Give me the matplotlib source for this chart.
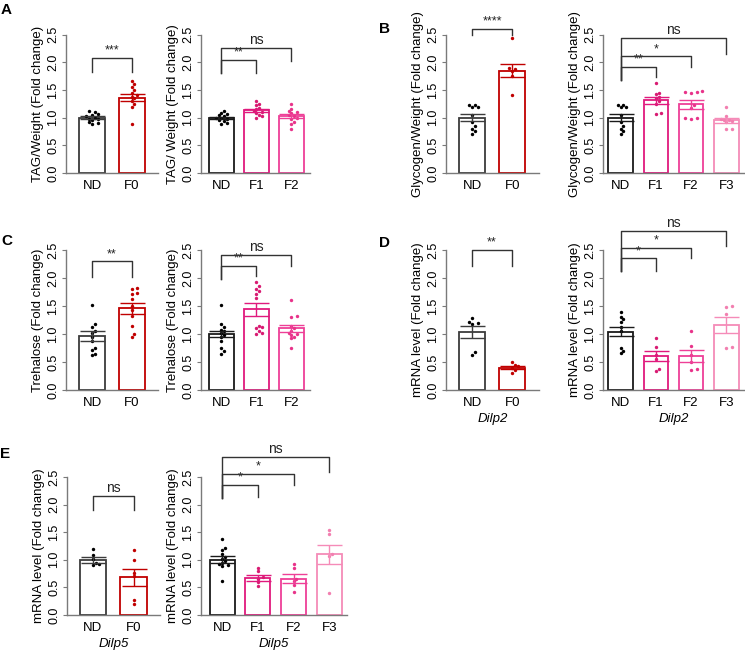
import matplotlib
matplotlib.use("Agg")
import matplotlib.pyplot as plt

plt.rcParams["font.family"] = ["Liberation Sans", "DejaVu Sans"]

W, H = 745, 654

# ---- data ------------------------------------------------------------------
groups_2 = ["ND", "F0"]
groups_3 = ["ND", "F1", "F2"]
groups_4 = ["ND", "F1", "F2", "F3"]

# A: TAG / weight
a_left_dots = [
    [1.12, 1.10, 1.07, 1.05, 1.02, 1.00, 0.98, 0.97, 0.95, 0.92, 0.90, 0.88],
    [1.66, 1.60, 1.55, 1.50, 1.45, 1.40, 1.38, 1.35, 1.30, 1.25, 1.20, 0.89],
]
a_left_mean = [1.00, 1.36]
a_left_sem = [0.02, 0.06]

a_right_dots = [
    [1.12, 1.09, 1.06, 1.04, 1.02, 1.00, 0.99, 0.97, 0.95, 0.93, 0.90, 0.88],
    [1.30, 1.25, 1.22, 1.18, 1.15, 1.12, 1.10, 1.08, 1.05, 1.02, 1.00],
    [1.24, 1.15, 1.12, 1.10, 1.08, 1.05, 1.03, 1.00, 0.98, 0.92, 0.88, 0.80],
]
a_right_mean = [0.99, 1.13, 1.03]
a_right_sem = [0.02, 0.03, 0.03]

# B: glycogen / weight
b_left_dots = [
    [1.23, 1.22, 1.20, 1.19, 1.05, 0.92, 0.85, 0.80, 0.75, 0.70],
    [2.44, 1.90, 1.88, 1.85, 1.75, 1.40],
]
b_left_mean = [1.00, 1.85]
b_left_sem = [0.06, 0.12]

b_right_dots = [
    [1.23, 1.22, 1.20, 1.19, 1.05, 0.92, 0.85, 0.80, 0.75, 0.70],
    [1.62, 1.45, 1.42, 1.38, 1.35, 1.30, 1.25, 1.08, 1.07],
    [1.48, 1.47, 1.46, 1.45, 1.22, 1.18, 1.00, 0.99, 0.98],
    [1.20, 1.02, 0.98, 0.96, 0.95, 0.93, 0.92, 0.80, 0.80],
]
b_right_mean = [1.00, 1.31, 1.24, 0.95]
b_right_sem = [0.06, 0.07, 0.08, 0.04]

# C: trehalose
c_left_dots = [
    [1.52, 1.17, 1.12, 1.05, 1.02, 0.95, 0.88, 0.75, 0.72, 0.65, 0.62],
    [1.82, 1.80, 1.73, 1.72, 1.62, 1.50, 1.42, 1.32, 1.14, 1.00, 0.95],
]
c_left_mean = [0.97, 1.46]
c_left_sem = [0.09, 0.10]

c_right_dots = [
    [1.52, 1.18, 1.12, 1.08, 1.05, 1.02, 0.98, 0.95, 0.88, 0.75, 0.70, 0.65],
    [1.92, 1.85, 1.80, 1.76, 1.72, 1.65, 1.15, 1.12, 1.10, 1.05, 1.02, 1.00],
    [1.60, 1.32, 1.30, 1.15, 1.10, 1.05, 1.02, 1.00, 0.98, 0.95, 0.92, 0.75],
]
c_right_mean = [1.00, 1.44, 1.10]
c_right_sem = [0.06, 0.12, 0.06]

# D: Dilp2 mRNA
d_left_dots = [
    [1.28, 1.22, 1.20, 1.18, 0.68, 0.63],
    [0.50, 0.45, 0.42, 0.40, 0.35, 0.30],
]
d_left_mean = [1.03, 0.40]
d_left_sem = [0.11, 0.03]

d_right_dots = [
    [1.40, 1.30, 1.26, 1.22, 1.12, 1.05, 0.75, 0.70, 0.66],
    [0.93, 0.77, 0.63, 0.55, 0.38, 0.34],
    [1.05, 0.79, 0.63, 0.50, 0.38, 0.36],
    [1.50, 1.48, 1.35, 0.77, 0.75],
]
d_right_mean = [1.04, 0.60, 0.61, 1.16]
d_right_sem = [0.08, 0.09, 0.11, 0.14]

# E: Dilp5 mRNA
e_left_dots = [
    [1.19, 1.08, 1.02, 0.95, 0.92, 0.90],
    [1.18, 1.00, 0.76, 0.70, 0.28, 0.20],
]
e_left_mean = [1.00, 0.68]
e_left_sem = [0.05, 0.15]

e_right_dots = [
    [1.37, 1.22, 1.18, 1.10, 1.05, 1.02, 0.98, 0.95, 0.92, 0.90, 0.88, 0.62],
    [0.86, 0.80, 0.68, 0.66, 0.60, 0.52],
    [0.92, 0.86, 0.66, 0.62, 0.55, 0.42],
    [1.54, 1.47, 1.10, 1.07, 0.40],
]
e_right_mean = [1.00, 0.67, 0.66, 1.10]
e_right_sem = [0.06, 0.05, 0.08, 0.17]

# brackets: (i, j, top, left leg bottom, right leg bottom, label)
a_left_br = [(0, 1, 2.08, 1.83, 1.83, "***")]
a_right_br = [(0, 1, 2.04, 1.81, 1.81, "**"), (0, 2, 2.25, 1.81, 2.03, "ns")]
b_left_br = [(0, 1, 2.60, 2.49, 2.49, "****")]
b_right_br = [(0, 1, 1.92, 1.68, 1.74, "**"), (0, 2, 2.11, 1.68, 1.92, "*"),
              (0, 3, 2.44, 1.68, 2.15, "ns")]
c_left_br = [(0, 1, 2.30, 2.02, 2.02, "**")]
c_right_br = [(0, 1, 2.22, 1.98, 2.03, "**"), (0, 2, 2.41, 1.98, 2.22, "ns")]
d_left_br = [(0, 1, 2.50, 2.22, 2.22, "**")]
d_right_br = [(0, 1, 2.35, 2.12, 2.13, "*"), (0, 2, 2.54, 2.12, 2.35, "*"),
              (0, 3, 2.84, 2.12, 2.58, "ns")]
e_left_br = [(0, 1, 2.16, 1.91, 1.91, "ns")]
e_right_br = [(0, 1, 2.36, 2.12, 2.14, "*"), (0, 2, 2.56, 2.12, 2.36, "*"),
              (0, 3, 2.86, 2.12, 2.59, "ns")]

# ---- styling ---------------------------------------------------------------
EDGE = {"ND": "#1a1a1a", "F0": "#c00000", "F1": "#e0197d", "F2": "#ee3f97", "F3": "#f58bb8"}
DOT = {"ND": "#000000", "F0": "#c00000", "F1": "#d81b72", "F2": "#e8338a", "F3": "#f27fb0"}
ND_LEFT = "#3c3c3c"
AXCOL = "#7a7a7a"


def swarm(vals, py, px, step=2.8, mind=3.2):
    # simple deterministic beeswarm in pixel space, returns offsets in data units
    placed = []
    offs = [0.0] * len(vals)
    order = sorted(range(len(vals)), key=lambda i: vals[i])
    for i in order:
        for k in [0, 1, -1, 2, -2, 3, -3, 4, -4, 5, -5]:
            x = k * step
            if all((x - qx) ** 2 + ((vals[i] - qv) * py) ** 2 >= mind ** 2 for qx, qv in placed):
                break
        placed.append((x, vals[i]))
        offs[i] = x / px
    return offs


def panel(px_box, ylo, yhi, groups, dots, means, sems, brackets, ylabel,
          xlim, width, gene=None, left_style=False):
    x0, x1 = px_box
    ax = fig.add_axes([x0 / W, 1 - ylo / H, (x1 - x0) / W, (ylo - yhi) / H])
    ax.set_xlim(*xlim)
    ax.set_ylim(0, 2.5)
    px_per_x = (x1 - x0) / (xlim[1] - xlim[0])
    px_per_y = (ylo - yhi) / 2.5
    for i, g in enumerate(groups):
        ec = ND_LEFT if (left_style and g == "ND") else EDGE[g]
        ax.bar(i, means[i], width=width, facecolor="white", edgecolor=ec,
               linewidth=1.3, zorder=2)
        offs = swarm(dots[i], px_per_y, px_per_x)
        ax.scatter([i + o for o in offs], dots[i], s=6, color=DOT[g],
                   linewidths=0, zorder=3, clip_on=False)
        ax.errorbar(i, means[i], yerr=sems[i], fmt="none", ecolor=ec,
                    elinewidth=1.0, capsize=9, capthick=1.0, zorder=4)
    for i, j, top, yl, yr, lab in brackets:
        ax.plot([i, i, j, j], [yl, top, top, yr], color="#333333", lw=1.0,
                clip_on=False, zorder=5)
        fs = 10 if lab == "ns" else 9
        ax.text((i + j) / 2, top + 0.02, lab, ha="center", va="bottom",
                fontsize=fs, color="#222222", clip_on=False)
    for s in ["top", "right"]:
        ax.spines[s].set_visible(False)
    for s in ["left", "bottom"]:
        ax.spines[s].set_color(AXCOL)
        ax.spines[s].set_linewidth(1.0)
    ax.set_yticks([0, 0.5, 1.0, 1.5, 2.0, 2.5])
    ax.set_yticklabels(["0.0", "0.5", "1.0", "1.5", "2.0", "2.5"], rotation=90,
                       va="center", fontsize=9)
    ax.tick_params(axis="y", length=3, width=0.8, color=AXCOL, pad=2)
    ax.set_xticks(range(len(groups)))
    ax.set_xticklabels(groups, fontsize=9.5)
    ax.tick_params(axis="x", length=0, pad=5)
    ax.set_ylabel(ylabel, fontsize=9.5, labelpad=2)
    if gene:
        ax.set_xlabel(gene, fontsize=9.5, style="italic", labelpad=3)
    return ax


fig = plt.figure(figsize=(W / 100, H / 100), dpi=100)

ROW1 = (173, 34.5)
ROW2 = (390, 250)
ROW3 = (615, 477)

panel((66, 158), *ROW1, groups_2, a_left_dots, a_left_mean, a_left_sem, a_left_br,
      "TAG/Weight (Fold change)", (-0.66, 1.67), 0.66, left_style=True)
panel((201, 310), *ROW1, groups_3, a_right_dots, a_right_mean, a_right_sem, a_right_br,
      "TAG/ Weight (Fold change)", (-0.586, 2.53), 0.70)
panel((446, 539), *ROW1, groups_2, b_left_dots, b_left_mean, b_left_sem, b_left_br,
      "Glycogen/Weight (Fold change)", (-0.65, 1.67), 0.66, left_style=True)
panel((603, 745), *ROW1, groups_4, b_right_dots, b_right_mean, b_right_sem, b_right_br,
      "Glycogen/Weight (Fold change)", (-0.5, 3.53), 0.70)

panel((66, 158), *ROW2, groups_2, c_left_dots, c_left_mean, c_left_sem, c_left_br,
      "Trehalose (Fold change)", (-0.66, 1.67), 0.66, left_style=True)
panel((201, 310), *ROW2, groups_3, c_right_dots, c_right_mean, c_right_sem, c_right_br,
      "Trehalose (Fold change)", (-0.586, 2.53), 0.70)
panel((446, 539), *ROW2, groups_2, d_left_dots, d_left_mean, d_left_sem, d_left_br,
      "mRNA level (Fold change)", (-0.65, 1.67), 0.66, gene="Dilp2", left_style=True)
panel((603, 745), *ROW2, groups_4, d_right_dots, d_right_mean, d_right_sem, d_right_br,
      "mRNA level (Fold change)", (-0.5, 3.53), 0.70, gene="Dilp2")

panel((67, 160), *ROW3, groups_2, e_left_dots, e_left_mean, e_left_sem, e_left_br,
      "mRNA level (Fold change)", (-0.64, 1.65), 0.66, gene="Dilp5", left_style=True)
panel((201, 347), *ROW3, groups_4, e_right_dots, e_right_mean, e_right_sem, e_right_br,
      "mRNA level (Fold change)", (-0.59, 3.49), 0.70, gene="Dilp5")

for lab, (x, y) in {"A": (6, 10), "B": (384, 29), "C": (7, 241),
                    "D": (384, 243), "E": (5, 454)}.items():
    fig.text(x / W, 1 - y / H, lab, fontsize=11, fontweight="bold",
             ha="center", va="center")

fig.savefig("out.png", dpi=100)
